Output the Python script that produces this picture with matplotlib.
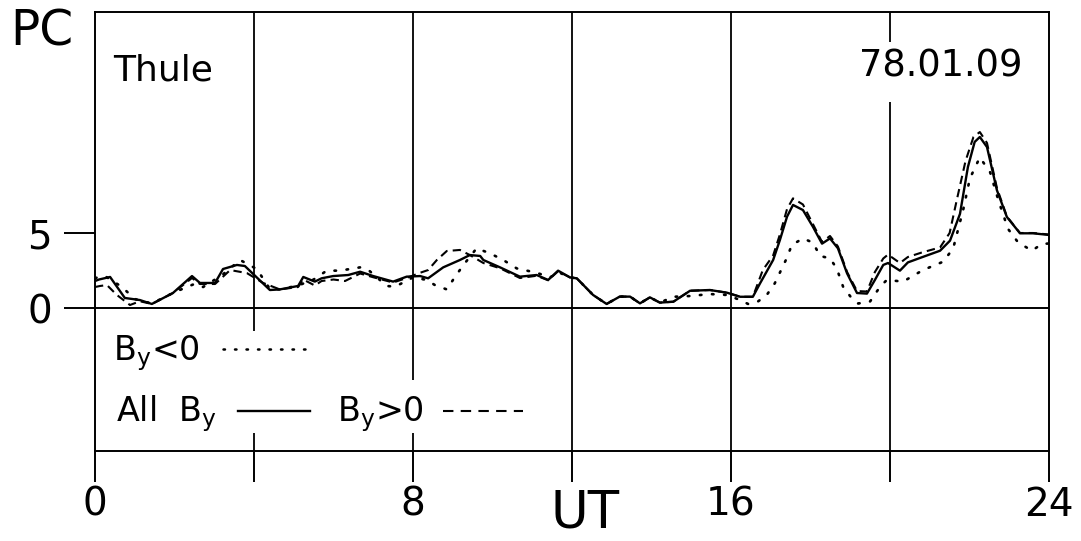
import numpy as np
import matplotlib
matplotlib.use("Agg")
from matplotlib import pyplot as plt

# PC index, Thule, 78.01.09
t_all = [0.0, 0.1, 0.38, 0.75, 1.13, 1.43, 1.96, 2.44, 2.64, 3.02,
         3.22, 3.57, 3.77, 4.4, 4.65, 5.11, 5.24, 5.53, 5.7, 5.99,
         6.37, 6.67, 7.0, 7.5, 7.84, 8.18, 8.38, 8.76, 9.18, 9.43,
         9.69, 9.77, 10.19, 10.69, 11.11, 11.4, 11.65, 11.95, 12.12, 12.53,
         12.87, 13.2, 13.46, 13.71, 13.96, 14.21, 14.55, 14.97, 15.47, 15.9,
         16.23, 16.55, 16.73, 17.06, 17.23, 17.41, 17.56, 17.81, 18.06, 18.29,
         18.49, 18.69, 18.92, 19.17, 19.42, 19.62, 19.83, 19.95, 20.25, 20.45,
         20.8, 21.26, 21.51, 21.76, 21.96, 22.13, 22.26, 22.44, 22.69, 22.94,
         23.27, 23.6, 24.0]
pc_all = [1.8, 1.9, 2.07, 0.67, 0.53, 0.27, 1.0, 2.13, 1.67, 1.67,
          2.6, 2.87, 2.8, 1.2, 1.24, 1.47, 2.07, 1.76, 1.98, 2.13,
          2.2, 2.42, 2.13, 1.76, 2.09, 2.13, 1.98, 2.71, 3.2, 3.53,
          3.47, 3.2, 2.71, 2.09, 2.2, 1.87, 2.49, 2.04, 1.98, 0.87,
          0.27, 0.76, 0.76, 0.31, 0.71, 0.36, 0.42, 1.15, 1.2, 1.02,
          0.75, 0.75, 1.64, 3.2, 4.53, 6.09, 6.87, 6.53, 5.42, 4.29,
          4.64, 3.98, 2.31, 1.0, 0.96, 1.87, 2.87, 3.0, 2.49, 3.04,
          3.38, 3.82, 4.49, 6.27, 9.4, 11.07, 11.4, 10.73, 7.85, 6.07,
          4.98, 4.98, 4.87]

t_pos = [0.0, 0.13, 0.3, 0.55, 0.88, 1.13, 1.43, 1.96, 2.44, 2.64,
         3.02, 3.4, 3.82, 4.23, 4.65, 5.11, 5.24, 5.53, 5.7, 6.0,
         6.29, 6.67, 7.0, 7.5, 7.84, 8.18, 8.38, 8.6, 8.85, 9.18,
         9.43, 9.77, 10.19, 10.69, 11.11, 11.4, 11.65, 11.95, 12.12, 12.53,
         12.87, 13.2, 13.46, 13.71, 13.96, 14.21, 14.55, 14.97, 15.47, 15.9,
         16.23, 16.55, 16.8, 17.06, 17.23, 17.41, 17.56, 17.81, 18.06, 18.29,
         18.49, 18.69, 18.92, 19.17, 19.42, 19.62, 19.83, 19.95, 20.25, 20.45,
         20.8, 21.26, 21.5, 21.68, 21.9, 22.1, 22.26, 22.44, 22.69, 22.94,
         23.27, 23.6, 24.0]
pc_pos = [1.4, 1.47, 1.53, 0.87, 0.2, 0.45, 0.27, 1.0, 2.0, 1.6,
          1.6, 2.53, 2.33, 1.67, 1.24, 1.4, 1.9, 1.5, 1.8, 1.9,
          1.8, 2.3, 2.05, 1.7, 2.0, 2.35, 2.53, 3.2, 3.8, 3.87,
          3.53, 3.0, 2.65, 2.0, 2.15, 1.85, 2.45, 2.04, 1.98, 0.87,
          0.27, 0.76, 0.76, 0.31, 0.71, 0.36, 0.42, 1.15, 1.2, 1.02,
          0.75, 0.75, 2.53, 3.5, 4.9, 6.6, 7.31, 6.9, 5.6, 4.4,
          4.8, 4.1, 2.4, 1.13, 1.1, 2.4, 3.3, 3.56, 3.0, 3.4,
          3.7, 4.04, 5.0, 7.2, 9.8, 11.4, 11.73, 11.0, 8.0, 6.1,
          5.0, 5.0, 4.9]

t_neg = [0.0, 0.25, 0.68, 1.0, 1.43, 1.96, 2.31, 2.5, 2.72, 3.2,
         3.65, 4.07, 4.4, 4.65, 5.11, 5.5, 5.83, 6.16, 6.67, 6.88,
         7.34, 7.55, 8.0, 8.35, 8.55, 8.85, 9.06, 9.27, 9.6, 9.94,
         10.27, 10.61, 11.11, 11.45, 11.65, 11.95, 12.12, 12.53, 12.87, 13.2,
         13.46, 13.71, 13.96, 14.21, 14.55, 14.97, 15.47, 15.9, 16.23, 16.43,
         16.67, 16.9, 17.1, 17.28, 17.4, 17.53, 17.81, 18.06, 18.24, 18.49,
         18.66, 18.82, 19.04, 19.2, 19.5, 19.75, 19.92, 20.33, 20.83, 21.34,
         21.59, 21.84, 22.01, 22.26, 22.52, 22.73, 22.97, 23.22, 23.57, 23.82,
         24.0]
pc_neg = [2.0, 2.13, 1.4, 0.6, 0.3, 1.0, 1.4, 1.6, 1.4, 2.2,
          3.2, 2.6, 1.27, 1.24, 1.5, 1.9, 2.49, 2.49, 2.71, 2.53,
          1.47, 1.42, 2.04, 1.87, 1.53, 1.24, 2.09, 2.87, 3.98, 3.64,
          3.2, 2.64, 2.35, 2.04, 2.4, 2.04, 1.98, 0.87, 0.27, 0.76,
          0.76, 0.31, 0.71, 0.36, 0.75, 0.8, 0.93, 0.87, 0.53, 0.27,
          0.42, 0.87, 1.64, 2.64, 3.31, 4.2, 4.64, 4.36, 3.47, 3.31,
          2.64, 1.42, 0.64, 0.3, 0.44, 1.42, 1.87, 1.76, 2.53, 3.09,
          3.98, 6.53, 8.64, 10.04, 9.04, 7.15, 5.27, 4.38, 3.82, 4.27,
          4.3]

xticks = [0, 4, 8, 12, 16, 20, 24]
xticklabels = ['0', '', '8', '', '16', '', '24']
yticks = [0, 5]

YMIN, YMAX = -9.53, 19.73
LW = 1.7

plt.rcParams['font.family'] = 'DejaVu Sans'

fig = plt.figure(figsize=(10.81, 5.41), dpi=100)
ax = fig.add_axes([95 / 1081, 1 - 451 / 541, 954 / 1081, 439 / 541])

# grid lines (with gaps where text sits)
ax.vlines([12, 16], YMIN, YMAX, color='k', lw=1.3)
ax.vlines(4, -1.5, YMAX, color='k', lw=1.3)
ax.vlines(8, -4.8, YMAX, color='k', lw=1.3)
ax.vlines(20, YMIN, 13.7, color='k', lw=1.3)
ax.vlines(20, 17.7, YMAX, color='k', lw=1.3)
ax.vlines([4, 8], YMIN, -8.33, color='k', lw=1.3)
ax.axhline(0, color='k', lw=1.4)

ax.plot(t_all, pc_all, color='k', lw=LW, solid_joinstyle='round')
ax.plot(t_pos, pc_pos, color='k', lw=1.5, linestyle=(0, (4, 2.5)))
ax.plot(t_neg, pc_neg, color='k', lw=1.9, linestyle=(0, (0.6, 4)),
        dash_capstyle='round')

ax.set_xlim(0, 24)
ax.set_ylim(YMIN, YMAX)
ax.set_xticks(xticks)
ax.set_xticklabels(xticklabels)
ax.set_yticks(yticks)
ax.tick_params(axis='x', direction='out', length=22, width=1.4, pad=3,
               labelsize=28)
ax.tick_params(axis='y', direction='out', length=22, width=1.4, pad=9,
               labelsize=28)
for s in ax.spines.values():
    s.set_linewidth(1.4)

# labels
fig.text(10 / 1081, 1 - 32 / 541, 'PC', fontsize=35, va='center', ha='left')
fig.text(585 / 1081, 1 - 514 / 541, 'UT', fontsize=37, va='center',
         ha='center')
ax.text(0.019, 0.866, 'Thule', transform=ax.transAxes, fontsize=26,
        va='center', ha='left')
ax.text(0.972, 0.877, '78.01.09', transform=ax.transAxes, fontsize=26.5,
        va='center', ha='right')

# hand-made key
ax.text(0.019, 0.207, r'B$_\mathrm{y}$<0', transform=ax.transAxes,
        fontsize=24, va='baseline', ha='left')
ax.plot([0.134, 0.227], [0.232, 0.232], transform=ax.transAxes, color='k',
        lw=1.8, linestyle=(0, (0.6, 4)), dash_capstyle='round')
ax.text(0.022, 0.068, r'All  B$_\mathrm{y}$', transform=ax.transAxes,
        fontsize=24, va='baseline', ha='left')
ax.plot([0.15, 0.225], [0.091, 0.091], transform=ax.transAxes, color='k',
        lw=LW)
ax.text(0.254, 0.068, r'B$_\mathrm{y}$>0', transform=ax.transAxes,
        fontsize=24, va='baseline', ha='left')
ax.plot([0.365, 0.449], [0.091, 0.091], transform=ax.transAxes, color='k',
        lw=1.5, linestyle=(0, (5, 3.5)))

fig.savefig('out.png', dpi=100)
